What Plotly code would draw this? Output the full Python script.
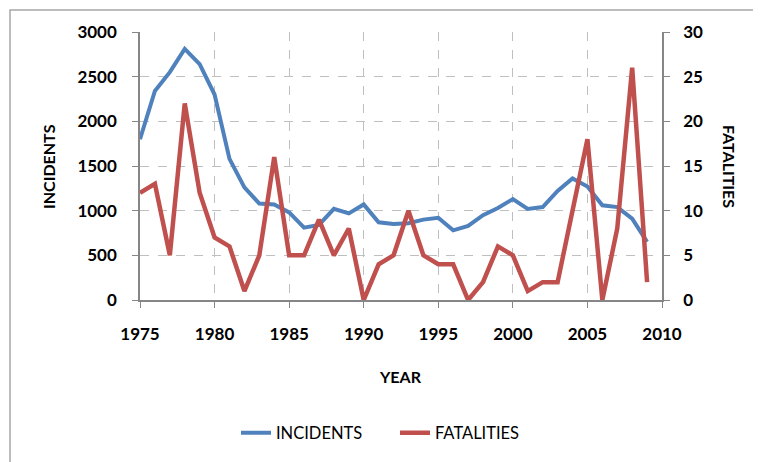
import plotly.graph_objects as go

years = list(range(1975, 2010))
incidents = [1800, 2340, 2550, 2810, 2640, 2300, 1580, 1260, 1080, 1070,
             980, 810, 840, 1020, 970, 1070, 870, 850, 860, 900,
             920, 780, 830, 950, 1030, 1130, 1020, 1040, 1220, 1360,
             1270, 1060, 1040, 910, 650]
fatalities = [12, 13, 5, 22, 12, 7, 6, 1, 5, 16,
              5, 5, 9, 5, 8, 0, 4, 5, 10, 5,
              4, 4, 0, 2, 6, 5, 1, 2, 2, 10,
              18, 0, 8, 26, 2]
x_ticks = [1975, 1980, 1985, 1990, 1995, 2000, 2005, 2010]

FONT = "Lato, Carlito, Calibri, sans-serif"
GRID = "#BFBFBF"
AXIS = "#868686"

fig = go.Figure()
fig.add_trace(go.Scatter(x=years, y=incidents, name="INCIDENTS", mode="lines",
                         line=dict(color="#4F81BD", width=4)))
fig.add_trace(go.Scatter(x=years, y=fatalities, name="FATALITIES", mode="lines",
                         line=dict(color="#C0504D", width=4.5), yaxis="y2"))

tickfont = dict(family=FONT, size=17, color="#000000", weight="bold")

fig.update_layout(
    width=761, height=462,
    margin=dict(l=132, r=107, t=24, b=170),
    paper_bgcolor="white", plot_bgcolor="white",
    showlegend=True,
    legend=dict(orientation="h", x=0.4885, xanchor="center", y=-0.496, yanchor="middle",
                font=dict(family=FONT, size=16.5, color="#000000"),
                entrywidth=114, entrywidthmode="pixels",
                bgcolor="rgba(0,0,0,0)"),
    xaxis=dict(range=[1975, 2010], tickvals=x_ticks, tickfont=tickfont,
               showgrid=True, gridcolor=GRID, griddash="dash", gridwidth=1,
               showline=True, linecolor=AXIS, linewidth=1.5,
               ticks="outside", ticklen=6, tickcolor=AXIS, ticklabelstandoff=12,
               zeroline=False),
    yaxis=dict(range=[0, 3000], dtick=500, tickfont=tickfont,
               showgrid=True, gridcolor=GRID, griddash="dash", gridwidth=1,
               showline=True, linecolor=AXIS, linewidth=1.5,
               ticks="outside", ticklen=6, tickcolor=AXIS, ticklabelstandoff=12,
               zeroline=False),
    yaxis2=dict(range=[0, 30], dtick=5, tickfont=tickfont, overlaying="y", side="right",
                showgrid=False,
                showline=True, linecolor=AXIS, linewidth=1.5,
                ticks="outside", ticklen=6, tickcolor=AXIS, ticklabelstandoff=10,
                zeroline=False),
    annotations=[
        dict(text="INCIDENTS", xref="paper", yref="paper", x=(48 - 140) / 522, y=(300 - 167) / 268,
             showarrow=False, textangle=-90, xanchor="center", yanchor="middle",
             font=dict(family=FONT, size=16, color="#000000", weight="bold")),
        dict(text="FATALITIES", xref="paper", yref="paper", x=(730 - 140) / 522, y=(300 - 166) / 268,
             showarrow=False, textangle=90, xanchor="center", yanchor="middle",
             font=dict(family=FONT, size=16, color="#000000", weight="bold")),
        dict(text="YEAR", xref="paper", yref="paper", x=(400 - 140) / 522, y=(300 - 376) / 268,
             showarrow=False, xanchor="center", yanchor="middle",
             font=dict(family=FONT, size=16, color="#000000", weight="bold")),
    ],
    shapes=[
        dict(type="rect", xref="paper", yref="paper",
             x0=(10 - 140) / 522, x1=(775 - 140) / 522,
             y0=(300 - 480) / 268, y1=(300 - 10) / 268,
             line=dict(color="#A6A6A6", width=1.5), layer="below"),
    ],
)

fig.write_html("out.html")
